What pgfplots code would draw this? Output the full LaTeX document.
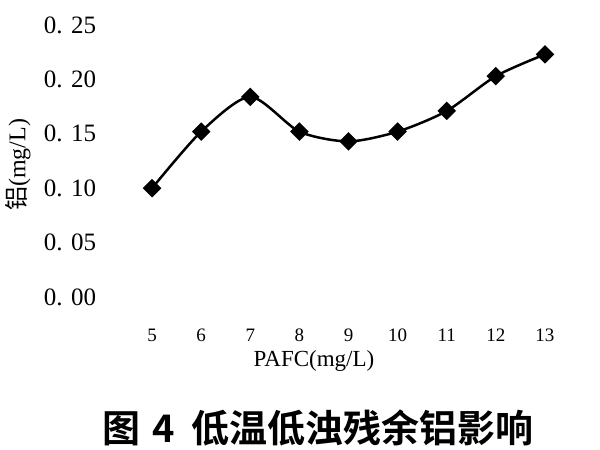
\documentclass[border=0pt]{standalone}
\usepackage{pgfplots}
\pgfplotsset{compat=1.18}
\usepackage{fontspec}
\setmainfont{Liberation Serif}
\newfontfamily\cjk{Noto Sans CJK SC}
\newfontfamily\cjkb{Noto Sans CJK SC}[BoldFont={* Bold}]
\begin{document}
\begin{tikzpicture}
\path[use as bounding box] (0,0) rectangle (600bp,450bp);
\begin{axis}[
  at={(127.5bp,153bp)}, anchor=south west,
  scale only axis, width=442bp, height=272bp,
  xmin=4.5, xmax=13.5, ymin=0, ymax=0.25,
  axis line style={draw=none}, tick style={draw=none},
  xtick={5,6,7,8,9,10,11,12,13},
  xticklabels={5,6,7,8,9,10,11,12,13},
  ytick={0,0.05,0.10,0.15,0.20,0.25},
  yticklabels={0. 00,0. 05,0. 10,0. 15,0. 20,0. 25},
  xticklabel style={anchor=center, yshift=-38bp, font=\fontsize{19bp}{22bp}\selectfont},
  yticklabel style={anchor=center, xshift=-57.5bp, font=\fontsize{25bp}{28bp}\selectfont},
  clip=false,
]
\addplot[black, line width=2.5bp, smooth, tension=0.45, mark=square*, mark size=5.3bp, mark options={rotate=45, solid, fill=black}]
coordinates {(5,0.100) (6,0.152) (7,0.184) (8,0.152) (9,0.143) (10,0.152) (11,0.171) (12,0.203) (13,0.223)};
\end{axis}
\node at (314bp,89bp) {\fontsize{23bp}{26bp}\selectfont PAFC(mg/L)};
\node[rotate=90] at (18bp,285bp) {\fontsize{24bp}{28bp}\selectfont{\cjk 铝}(mg/L)};
\node at (318bp,22bp) {\fontsize{38bp}{42bp}\selectfont\cjkb\bfseries 图\hspace*{12bp}4\hspace*{16bp}低温低浊残余铝影响};
\end{tikzpicture}
\end{document}
